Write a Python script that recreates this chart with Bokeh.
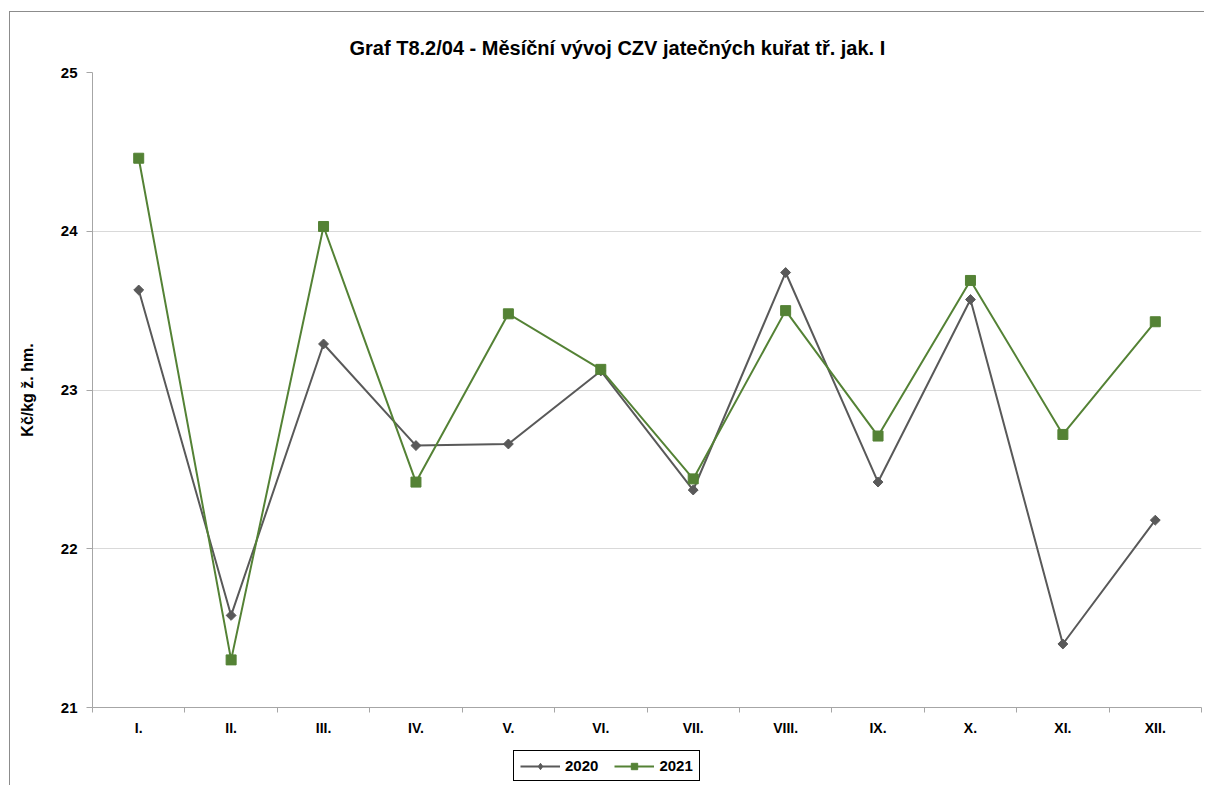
import math
from bokeh.plotting import figure
from bokeh.layouts import column
from bokeh.models import FixedTicker, Legend, LegendItem, ColumnDataSource, Range1d
from bokeh.embed import file_html
from bokeh.resources import INLINE

months = ["I.", "II.", "III.", "IV.", "V.", "VI.", "VII.", "VIII.", "IX.", "X.", "XI.", "XII."]
v2020 = [23.63, 21.58, 23.29, 22.65, 22.66, 23.12, 22.37, 23.74, 22.42, 23.57, 21.40, 22.18]
v2021 = [24.46, 21.30, 24.03, 22.42, 23.48, 23.13, 22.44, 23.50, 22.71, 23.69, 22.72, 23.43]
y_ticks = [21, 22, 23, 24, 25]
series_names = ["2020", "2021"]

FONT = "Liberation Sans"
GREY = "#595959"
GREEN = "#548235"

xs = list(range(1, len(months) + 1))
src = ColumnDataSource(dict(x=xs, y20=v2020, y21=v2021))

p = figure(width=1194, height=733, output_backend="svg", toolbar_location=None,
           x_range=Range1d(0.5, len(months) + 0.5), y_range=Range1d(21, 25),
           min_border_left=82, min_border_right=3, min_border_top=60, min_border_bottom=38)
p.outline_line_color = None

p.title.text = "Graf T8.2/04 - Měsíční vývoj CZV jatečných kuřat tř. jak. I"
p.title.text_font = FONT
p.title.text_font_size = "20px"
p.title.text_font_style = "bold"
p.title.text_color = "black"
p.title.align = "left"
p.title.offset = 257
p.title.standoff = 28

# x axis
p.xaxis.ticker = FixedTicker(ticks=xs, minor_ticks=[i + 0.5 for i in range(0, len(months) + 1)])
p.xaxis.major_label_overrides = {i: m for i, m in zip(xs, months)}
p.xaxis.major_tick_line_color = None
p.xaxis.minor_tick_line_color = "#a6a6a6"
p.xaxis.minor_tick_out = 5
p.xaxis.minor_tick_in = 0
p.xaxis.axis_line_color = "#a6a6a6"
p.xaxis.major_label_text_font = FONT
p.xaxis.major_label_text_font_size = "14px"
p.xaxis.major_label_text_font_style = "bold"
p.xaxis.major_label_text_color = "black"
p.xaxis.major_label_standoff = 6

# y axis
p.yaxis.ticker = FixedTicker(ticks=y_ticks, minor_ticks=[])
p.yaxis.axis_label = "Kč/kg ž. hm."
p.yaxis.axis_label_text_font = FONT
p.yaxis.axis_label_text_font_size = "16px"
p.yaxis.axis_label_text_font_style = "bold"
p.yaxis.axis_label_text_color = "black"
p.yaxis.axis_label_standoff = 22
p.yaxis.major_label_text_font = FONT
p.yaxis.major_label_text_font_size = "15px"
p.yaxis.major_label_text_font_style = "bold"
p.yaxis.major_label_text_color = "black"
p.yaxis.major_label_standoff = 9
p.yaxis.major_tick_out = 6
p.yaxis.major_tick_in = 0
p.yaxis.major_tick_line_color = "#a6a6a6"
p.yaxis.axis_line_color = "#a6a6a6"

p.xgrid.grid_line_color = None
p.ygrid.grid_line_color = "#d9d9d9"
p.ygrid.ticker = FixedTicker(ticks=y_ticks)

p.line("x", "y20", source=src, line_color=GREY, line_width=2)
p.scatter("x", "y20", source=src, marker="square", angle=math.pi / 4, size=7,
          fill_color=GREY, line_color=GREY)
p.line("x", "y21", source=src, line_color=GREEN, line_width=2)
p.scatter("x", "y21", source=src, marker="square", size=10, fill_color=GREEN, line_color=GREEN)

# legend strip below the chart (its renderers use the same data but lie outside its view)
leg = figure(width=1194, height=40, output_backend="svg", toolbar_location=None,
             x_range=Range1d(100, 101), y_range=Range1d(100, 101),
             min_border_left=0, min_border_right=0, min_border_top=0, min_border_bottom=0)
leg.axis.visible = False
leg.grid.visible = False
leg.outline_line_color = None
a1 = leg.line("x", "y20", source=src, line_color=GREY, line_width=2)
a2 = leg.scatter("x", "y20", source=src, marker="diamond", size=12,
                 fill_color=GREY, line_color=GREY)
b1 = leg.line("x", "y21", source=src, line_color=GREEN, line_width=2)
b2 = leg.scatter("x", "y21", source=src, marker="square", size=10, fill_color=GREEN, line_color=GREEN)

legend = Legend(items=[LegendItem(label=series_names[0], renderers=[a1, a2]),
                       LegendItem(label=series_names[1], renderers=[b1, b2])],
                orientation="horizontal", location=(421, 4))
legend.label_text_font = FONT
legend.label_text_font_size = "15px"
legend.label_text_font_style = "bold"
legend.label_text_color = "black"
legend.glyph_width = 40
legend.glyph_height = 16
legend.label_standoff = 5
legend.spacing = 16
legend.padding = 6
legend.margin = 0
legend.border_line_color = "black"
legend.border_line_alpha = 1
legend.border_line_width = 1
legend.background_fill_alpha = 1
leg.add_layout(legend, "center")

layout = column(p, leg, spacing=0)
layout.styles = {"border-top": "1px solid #8c8c8c", "border-left": "1px solid #8c8c8c",
                 "margin-top": "11px", "margin-left": "9px"}

open("out.html", "w").write(file_html(layout, INLINE))
